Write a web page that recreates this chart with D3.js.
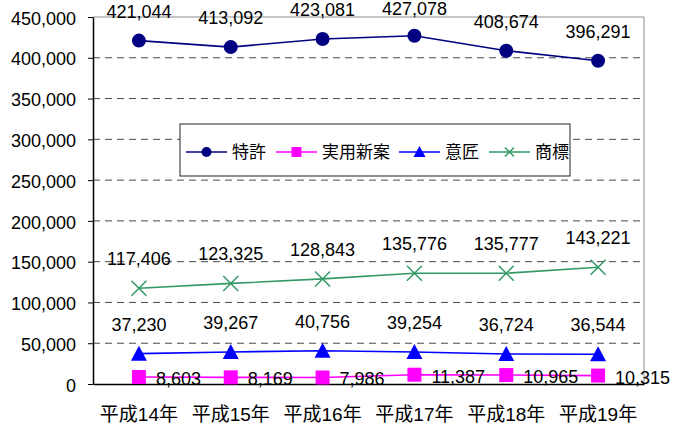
<!DOCTYPE html>
<html>
<head>
<meta charset="utf-8">
<script src="https://cdn.jsdelivr.net/npm/d3@7"></script>
<style>
  html, body { margin: 0; padding: 0; background: #fff; }
  svg { display: block; font-family: "Liberation Sans", Arial, "Noto Sans CJK JP", sans-serif; }
</style>
</head>
<body>
<svg id="chart" width="689" height="425"></svg>
<script>
// 出願件数の推移（平成14年〜平成19年）
const years = ["平成14年", "平成15年", "平成16年", "平成17年", "平成18年", "平成19年"];
const patent = [421044, 413092, 423081, 427078, 408674, 396291];      // 特許
const utility = [8603, 8169, 7986, 11387, 10965, 10315];               // 実用新案
const design = [37230, 39267, 40756, 39254, 36724, 36544];             // 意匠
const trademark = [117406, 123325, 128843, 135776, 135777, 143221];    // 商標
const yTicks = [0, 50000, 100000, 150000, 200000, 250000, 300000, 350000, 400000, 450000];

const series = [
  { name: "特許", values: patent, color: "#000080", marker: "circle", label: "above" },
  { name: "実用新案", values: utility, color: "#FF00FF", marker: "square", label: "right" },
  { name: "意匠", values: design, color: "#0000FF", marker: "triangle", label: "above" },
  { name: "商標", values: trademark, color: "#339966", marker: "cross", label: "above" }
];

const svg = d3.select("#chart");
const plot = { left: 93, right: 644, top: 17, bottom: 384 };
const font = '"Liberation Sans", Arial, "Noto Sans CJK JP", sans-serif';

const x = d3.scaleBand().domain(years).range([plot.left, plot.right]).padding(0);
const y = d3.scaleLinear().domain([0, 450000]).range([plot.bottom, plot.top]);
const cx = d => x(d) + x.bandwidth() / 2;

// グリッド線（破線）
svg.append("g")
  .selectAll("line")
  .data(yTicks.filter(t => t > 0 && t < 450000))
  .join("line")
  .attr("x1", plot.left).attr("x2", plot.right)
  .attr("y1", d => y(d)).attr("y2", d => y(d))
  .attr("stroke", "#4a4a4a").attr("stroke-width", 1)
  .attr("stroke-dasharray", "7,5");

// 上辺・右辺の枠
svg.append("path")
  .attr("d", `M${plot.left},${y(450000)}H${plot.right}V${plot.bottom}`)
  .attr("fill", "none").attr("stroke", "#8c8c8c").attr("stroke-width", 1);

// Y軸
const yAxis = svg.append("g")
  .attr("transform", `translate(${plot.left},0)`)
  .call(d3.axisLeft(y).tickValues(yTicks).tickFormat(d3.format(",")).tickSize(5).tickSizeOuter(0).tickPadding(12));
yAxis.select(".domain").attr("stroke", "#000").attr("stroke-width", 1.5);
yAxis.selectAll(".tick line").attr("stroke", "#000");
yAxis.selectAll(".tick text")
  .attr("font-family", font).attr("font-size", 18).attr("fill", "#000")
  .attr("dy", "0.4em");

// X軸
const xAxis = svg.append("g")
  .attr("transform", `translate(0,${plot.bottom})`)
  .call(d3.axisBottom(x).tickSize(0).tickSizeOuter(0).tickPadding(24));
xAxis.select(".domain").attr("stroke", "#000").attr("stroke-width", 1.5);
xAxis.selectAll(".tick text")
  .attr("font-family", font).attr("font-size", 19).attr("fill", "#000")
  .attr("dy", "0.71em");

// 凡例
const legend = svg.append("g").attr("transform", "translate(180,124)");
legend.append("rect")
  .attr("width", 390).attr("height", 52)
  .attr("fill", "#fff").attr("stroke", "#222").attr("stroke-width", 1);

function drawMarker(g, type, color, size) {
  const s = size;
  if (type === "circle") {
    g.append("circle").attr("r", s / 2).attr("fill", color);
  } else if (type === "square") {
    g.append("rect").attr("x", -s / 2).attr("y", -s / 2).attr("width", s).attr("height", s).attr("fill", color);
  } else if (type === "triangle") {
    g.append("path").attr("d", `M0,${-s / 2 - 1}L${s / 2 + 1},${s / 2}L${-s / 2 - 1},${s / 2}Z`).attr("fill", color);
  } else if (type === "cross") {
    g.append("path").attr("d", `M${-s / 2},${-s / 2}L${s / 2},${s / 2}M${-s / 2},${s / 2}L${s / 2},${-s / 2}`)
      .attr("stroke", color).attr("stroke-width", 1.5).attr("fill", "none");
  }
}

const legendX = [6, 96, 219, 309];
series.forEach((s, i) => {
  const item = legend.append("g").attr("transform", `translate(${legendX[i]},28)`);
  item.append("line").attr("x1", 0).attr("x2", 41).attr("y1", 0).attr("y2", 0)
    .attr("stroke", s.color).attr("stroke-width", 1.5);
  drawMarker(item.append("g").attr("transform", "translate(20.5,0)"), s.marker, s.color, s.marker === "cross" ? 9 : 10);
  item.append("text").attr("x", 46).attr("y", 0).attr("dy", "0.36em")
    .attr("font-family", font).attr("font-size", 17).attr("fill", "#000")
    .text(s.name);
});

// 系列の折れ線・マーカー・データラベル
const line = d3.line().x((d, i) => cx(years[i])).y(d => y(d));
series.forEach(s => {
  const g = svg.append("g");
  g.append("path").datum(s.values).attr("d", line)
    .attr("fill", "none").attr("stroke", s.color).attr("stroke-width", 1.6);
  s.values.forEach((v, i) => {
    const mg = g.append("g").attr("transform", `translate(${cx(years[i])},${y(v)})`);
    drawMarker(mg, s.marker, s.color, s.marker === "cross" ? 15 : 14);
  });
});

// ラベルが上端からはみ出さないよう、ベースラインを最低 15px に抑える
const fmt = d3.format(",");
series.forEach(s => {
  svg.append("g").selectAll("text")
    .data(s.values)
    .join("text")
    .attr("font-family", font).attr("font-size", 18).attr("fill", "#000")
    .attr("x", (d, i) => s.label === "right" ? cx(years[i]) + 17 : cx(years[i]))
    .attr("y", d => s.label === "right" ? y(d) + 8 : Math.max(15, y(d) - 23))
    .attr("text-anchor", s.label === "right" ? "start" : "middle")
    .text(d => fmt(d));
});
</script>
</body>
</html>
